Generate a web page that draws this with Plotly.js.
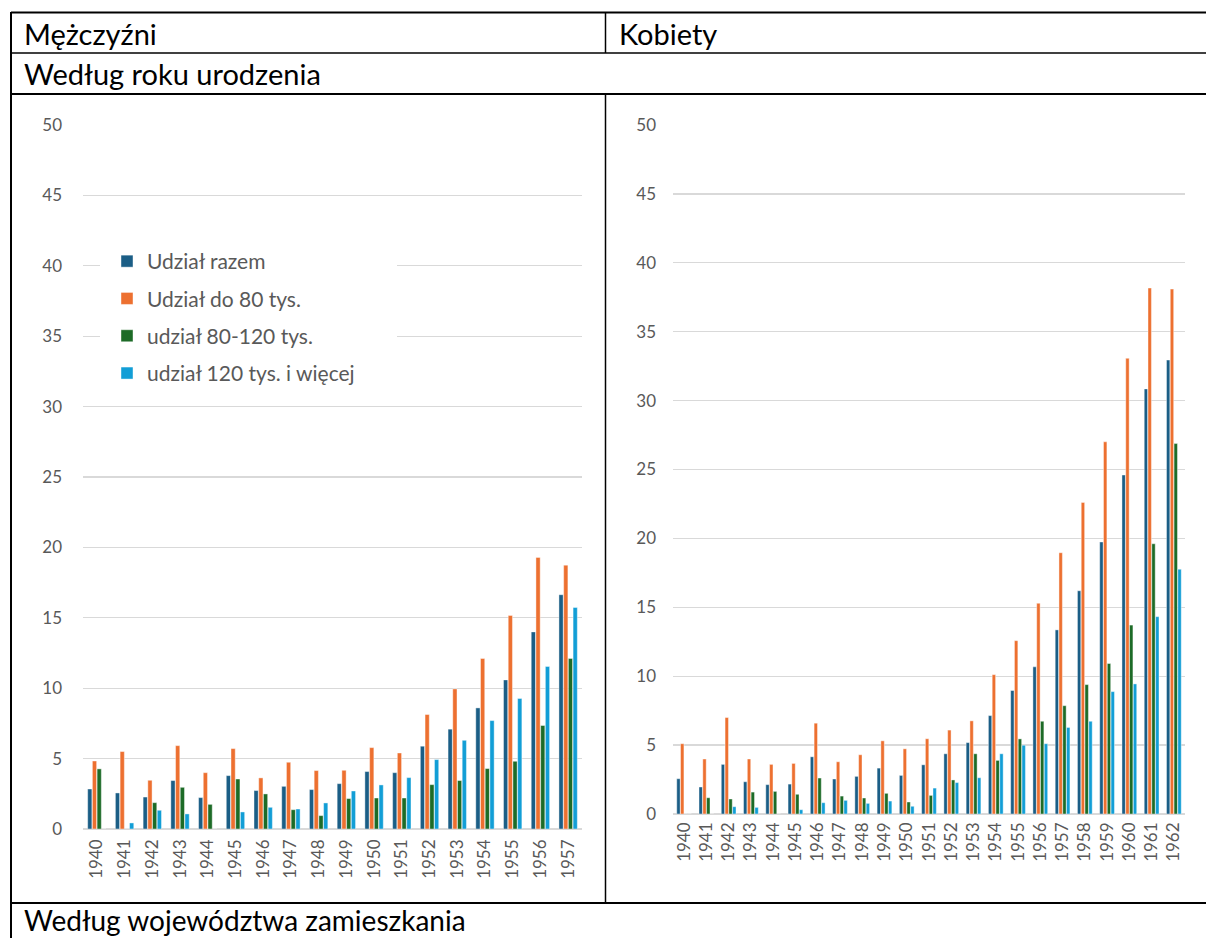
<!DOCTYPE html>
<html>
<head>
<meta charset="utf-8">
<script src="https://cdn.plot.ly/plotly-3.0.1.min.js"></script>
<style>html,body{margin:0;padding:0;background:#fff;}#chart{width:1206px;height:938px;}</style>
</head>
<body>
<div id="chart"></div>
<script>
// ---- data ----
const seriesNames = ["Udział razem", "Udział do 80 tys.", "udział 80-120 tys.", "udział 120 tys. i więcej"];
const menYears = ["1940","1941","1942","1943","1944","1945","1946","1947","1948","1949","1950","1951","1952","1953","1954","1955","1956","1957"];
const menTotal = [2.84,2.56,2.27,3.44,2.23,3.79,2.73,3.03,2.80,3.22,4.08,4.00,5.88,7.09,8.60,10.59,14.00,16.64];
const menLow   = [4.83,5.50,3.46,5.92,4.00,5.71,3.63,4.74,4.15,4.17,5.78,5.40,8.13,9.95,12.11,15.17,19.29,18.74];
const menMid   = [4.27,0,1.87,2.96,1.75,3.55,2.49,1.37,0.95,2.16,2.20,2.20,3.15,3.44,4.29,4.81,7.35,12.11];
const menHigh  = [0,0.43,1.33,1.07,0,1.21,1.54,1.42,1.85,2.70,3.13,3.65,4.93,6.30,7.70,9.27,11.54,15.73];

const womenYears = ["1940","1941","1942","1943","1944","1945","1946","1947","1948","1949","1950","1951","1952","1953","1954","1955","1956","1957","1958","1959","1960","1961","1962"];
const womenTotal = [2.56,1.96,3.60,2.34,2.13,2.17,4.15,2.54,2.73,3.33,2.80,3.57,4.37,5.18,7.14,8.96,10.68,13.36,16.20,19.74,24.60,30.85,32.94];
const womenLow   = [5.10,3.99,7.00,3.99,3.60,3.67,6.59,3.79,4.30,5.31,4.73,5.46,6.09,6.76,10.11,12.58,15.29,18.96,22.61,27.01,33.07,38.17,38.09];
const womenMid   = [0,1.18,1.09,1.59,1.64,1.43,2.61,1.30,1.16,1.50,0.87,1.35,2.47,4.37,3.89,5.45,6.73,7.86,9.39,10.92,13.71,19.61,26.88];
const womenHigh  = [0,0,0.53,0.48,0,0.31,0.82,0.99,0.77,0.94,0.56,1.88,2.28,2.63,4.37,4.99,5.10,6.28,6.73,8.88,9.44,14.32,17.76];

const headers = {men: "Mężczyźni", women: "Kobiety", byYear: "Według roku urodzenia", byRegion: "Według województwa zamieszkania"};
const yTicks = [0,5,10,15,20,25,30,35,40,45,50];

// ---- styling ----
const colors = ["#1B5E86", "#ED7030", "#1D6B27", "#129ED6"];
const W = 1206, H = 938;
const px = v => v / W;
const py = v => 1 - v / H;
const FAM = "Lato, 'Open Sans', sans-serif";
const tickFont = {family: FAM, size: 17, color: "#595959"};

const menSeries = [menTotal, menLow, menMid, menHigh];
const womenSeries = [womenTotal, womenLow, womenMid, womenHigh];

const traces = [];
menSeries.forEach((vals, i) => {
  traces.push({
    type: "bar", x: menYears, y: vals, name: seriesNames[i],
    xaxis: "x", yaxis: "y", legendgroup: "g" + i,
    marker: {color: colors[i], line: {width: 0.6, color: "rgba(255,255,255,0.7)"}},
    hoverinfo: "x+y+name"
  });
});
womenSeries.forEach((vals, i) => {
  traces.push({
    type: "bar", x: womenYears, y: vals, name: seriesNames[i],
    xaxis: "x2", yaxis: "y2", legendgroup: "g" + i, showlegend: false,
    marker: {color: colors[i], line: {width: 0.6, color: "rgba(255,255,255,0.7)"}},
    hoverinfo: "x+y+name"
  });
});

const yAxisCommon = {
  range: [0, 50], tickvals: yTicks, showgrid: true, gridcolor: "#D9D9D9", gridwidth: 1.3,
  zeroline: true, zerolinecolor: "#D9D9D9", zerolinewidth: 1.6, showline: false,
  ticks: "", tickfont: tickFont, fixedrange: true
};
const xAxisCommon = {
  type: "category", tickangle: -90, showgrid: false, zeroline: false, showline: false,
  ticks: "", tickfont: tickFont, fixedrange: true
};

const lineStyle = {color: "#000", width: 2};
const shapes = [
  {type: "line", xref: "paper", yref: "paper", x0: px(11), x1: px(1206), y0: py(12.5), y1: py(12.5), line: lineStyle},
  {type: "line", xref: "paper", yref: "paper", x0: px(11), x1: px(1206), y0: py(53), y1: py(53), line: {color: "#000", width: 1.5}},
  {type: "line", xref: "paper", yref: "paper", x0: px(11), x1: px(1206), y0: py(94), y1: py(94), line: lineStyle},
  {type: "line", xref: "paper", yref: "paper", x0: px(11), x1: px(1206), y0: py(903), y1: py(903), line: lineStyle},
  {type: "line", xref: "paper", yref: "paper", x0: px(11), x1: px(11), y0: py(12), y1: py(938), line: lineStyle},
  {type: "line", xref: "paper", yref: "paper", x0: px(605.5), x1: px(605.5), y0: py(12), y1: py(53), line: {color: "#000", width: 1.5}},
  {type: "line", xref: "paper", yref: "paper", x0: px(605.5), x1: px(605.5), y0: py(94), y1: py(903), line: {color: "#000", width: 1.5}},
  // legend backdrop (covers gridlines like the original)
  {type: "rect", xref: "paper", yref: "paper", x0: px(100), x1: px(397), y0: py(243), y1: py(390), fillcolor: "#fff", line: {width: 0}, layer: "above"}
];

const hdrFont = {family: FAM, size: 29, color: "#000"};
const annotations = [
  {text: headers.men, x: px(22), y: py(33)},
  {text: headers.women, x: px(617), y: py(33)},
  {text: headers.byYear, x: px(22), y: py(74)},
  {text: headers.byRegion, x: px(22), y: py(920), font: {family: FAM, size: 28, color: "#000"}}
].map(a => Object.assign({xref: "paper", yref: "paper", xanchor: "left", yanchor: "middle", showarrow: false, font: hdrFont}, a));

const layout = {
  width: W, height: H,
  margin: {l: 0, r: 0, t: 0, b: 0},
  paper_bgcolor: "#fff", plot_bgcolor: "rgba(0,0,0,0)",
  barmode: "group", bargap: 0.32, bargroupgap: 0.1,
  font: {family: FAM, color: "#595959"},
  xaxis: Object.assign({}, xAxisCommon, {domain: [px(83), px(582)], anchor: "y", ticklabelstandoff: 6}),
  yaxis: Object.assign({}, yAxisCommon, {domain: [py(829), py(125)], anchor: "x", ticklabelstandoff: 20}),
  xaxis2: Object.assign({}, xAxisCommon, {domain: [px(673), px(1185)], anchor: "y2", ticklabelstandoff: 4}),
  yaxis2: Object.assign({}, yAxisCommon, {domain: [py(814), py(125)], anchor: "x2", ticklabelstandoff: 16}),
  showlegend: true,
  legend: {
    x: px(107), y: py(241), xanchor: "left", yanchor: "top",
    bgcolor: "rgba(255,255,255,0)", borderwidth: 0,
    font: {family: FAM, size: 21, color: "#595959"},
    traceorder: "grouped", tracegroupgap: 7
  },
  shapes: shapes,
  annotations: annotations
};

Plotly.newPlot("chart", traces, layout, {staticPlot: true, displayModeBar: false});
</script>
</body>
</html>
